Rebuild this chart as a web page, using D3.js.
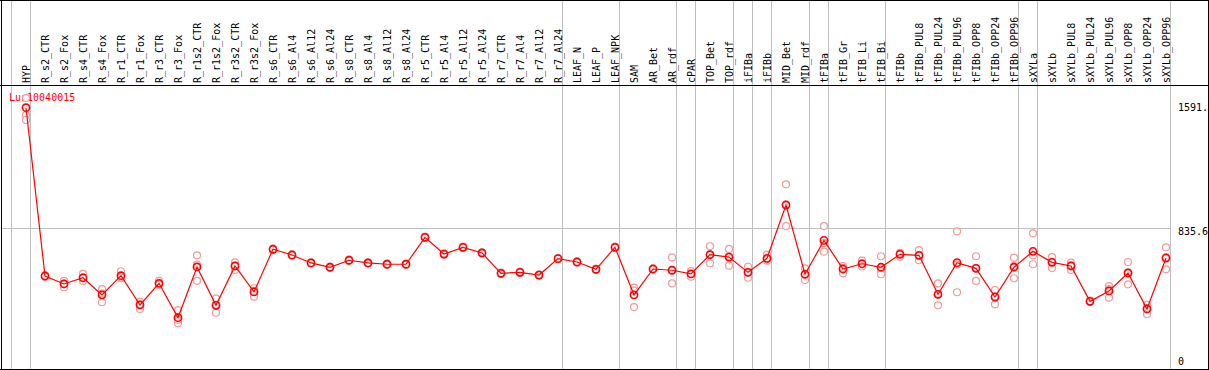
<!DOCTYPE html>
<html lang="en">
<head>
<title>Lus10040015</title>
<script src="https://d3js.org/d3.v7.min.js"></script>
<style>
body{margin:0;background:#fff;}
text{font-family:"DejaVu Sans Mono",monospace;font-size:10px;}
</style>
</head>
<body>
<div id="chart"></div>
<script>
var w = 1209, h = 370;
var geneId = "Lus10040015";

var samples = ["HYP","R_s2_CTR","R_s2_Fox","R_s4_CTR","R_s4_Fox","R_r1_CTR","R_r1_Fox","R_r3_CTR","R_r3_Fox",
  "R_r1s2_CTR","R_r1s2_Fox","R_r3s2_CTR","R_r3s2_Fox","R_s6_CTR","R_s6_Al4","R_s6_Al12","R_s6_Al24",
  "R_s8_CTR","R_s8_Al4","R_s8_Al12","R_s8_Al24","R_r5_CTR","R_r5_Al4","R_r5_Al12","R_r5_Al24",
  "R_r7_CTR","R_r7_Al4","R_r7_Al12","R_r7_Al24","LEAF_N","LEAF_P","LEAF_NPK","SAM","AR_Bet","AR_rdf",
  "cPAR","TOP_Bet","TOP_rdf","iFIBa","iFIBb","MID_Bet","MID_rdf","tFIBa","tFIB_Gr","tFIB_Li","tFIB_Bi",
  "tFIBb","tFIBb_PUL8","tFIBb_PUL24","tFIBb_PUL96","tFIBb_OPP8","tFIBb_OPP24","tFIBb_OPP96",
  "sXYLa","sXYLb","sXYLb_PUL8","sXYLb_PUL24","sXYLb_PUL96","sXYLb_OPP8","sXYLb_OPP24","sXYLb_OPP96"];

var means = [1591.4,534,484,523,415,536,352,488,272,591,350,597,434,702,666,616,589,633,616,608,608,
  777,672,714,679,551,557,540,643,622,576,714,415,578,570,547,668,653,557,645,980,545,758,578,611,589,
  670,664,419,618,582,402,589,689,620,597,375,440,553,327,647];

var reps = [[1652,1545,1514],[540,528,534],[504,463,486],[547,503,520],[452,369,424],[564,520,525],
  [373,327,356],[503,484,478],[320,237,259],[664,504,605],[394,303,353],[620,572,599],[457,404,441],
  [706,698,702],[670,662,666],[620,612,616],[593,585,589],[637,629,633],[620,612,616],[612,604,608],
  [612,604,608],[781,773,777],[676,668,672],[718,710,714],[683,675,679],[555,547,551],[561,553,557],
  [544,536,540],[647,639,643],[626,618,622],[580,572,576],[718,710,714],[461,442,339],[582,575,578],
  [651,488,572],[565,530,548],[721,614,668],[704,599,656],[592,523,556],[668,630,638],[1110,848,982],
  [582,509,544],[848,687,740],[597,551,586],[630,609,594],[658,565,545],[679,655,676],[697,633,662],
  [488,350,419],[815,432,607],[658,503,585],[446,356,404],[649,520,598],[802,664,608],[653,584,623],
  [618,572,601],[380,370,375],[471,398,451],[622,482,555],[352,295,334],[714,576,651]];

// last sample index of each tissue group (-1 = left edge)
var groupEnds = [-1,0,28,31,34,35,37,38,39,41,42,45,52,53,60];
var yMax = 1671.2;
var yTicks = [{v:1591.4,t:"1591.",dy:3},{v:835.6,t:"835.6",dy:7},{v:0,t:"0",dy:4}];

var svg = d3.select("#chart").append("svg").attr("width",w).attr("height",h);

var x = d3.scaleLinear().domain([0,samples.length-1]).range([26,1166]);
var y = d3.scaleLinear().domain([0,yMax]).range([361,95]);

// group separators
svg.selectAll(".sep").data(groupEnds).enter().append("line")
  .attr("x1",function(d){return Math.round(x(d)+4)+0.5;})
  .attr("x2",function(d){return Math.round(x(d)+4)+0.5;})
  .attr("y1",0).attr("y2",369)
  .attr("stroke","#c0c0c0").attr("stroke-width",1);

// mid gridline
var gy = Math.round(y(835.6))+0.5;
svg.append("line").attr("x1",1).attr("x2",Math.round(x(60)+4)+0.5)
  .attr("y1",gy).attr("y2",gy).attr("stroke","#c0c0c0");

// sample labels
svg.selectAll(".lab").data(samples).enter().append("text")
  .attr("transform",function(d,i){return "translate("+(x(i)+3.5)+",83) rotate(-90)";})
  .attr("fill","#000")
  .text(function(d){return d;});

svg.append("text").attr("x",9).attr("y",100.5).attr("fill","#ff0000").text(geneId);

// replicate points
var repPts = [];
reps.forEach(function(r,i){ r.forEach(function(v){ repPts.push({i:i,v:v}); }); });
svg.selectAll(".rep").data(repPts).enter().append("circle")
  .attr("cx",function(d){return x(d.i);})
  .attr("cy",function(d){return y(d.v);})
  .attr("r",3.5)
  .attr("fill","#fff")
  .attr("stroke","#f09a9a").attr("stroke-width",1.2);

// mean line
var line = d3.line().x(function(d,i){return x(i);}).y(function(d){return y(d);});
svg.append("path").datum(means).attr("d",line)
  .attr("fill","none").attr("stroke","#ff0000").attr("stroke-width",1.2);

svg.selectAll(".mean").data(means).enter().append("circle")
  .attr("cx",function(d,i){return x(i);})
  .attr("cy",function(d){return y(d);})
  .attr("r",3.6)
  .attr("fill","none")
  .attr("stroke","#ff0000").attr("stroke-width",1.6);

// borders
var b = [[0,0.5,w,0.5],[1.5,0,1.5,370],[1208.5,0,1208.5,370],[0,369.5,w,369.5],[0,85.5,w,85.5]];
svg.selectAll(".border").data(b).enter().append("line")
  .attr("x1",function(d){return d[0];}).attr("y1",function(d){return d[1];})
  .attr("x2",function(d){return d[2];}).attr("y2",function(d){return d[3];})
  .attr("stroke","#000");

// value labels
svg.selectAll(".val").data(yTicks).enter().append("text")
  .attr("x",1178).attr("y",function(d){return y(d.v)+d.dy;})
  .attr("fill","#000").text(function(d){return d.t;});
</script>
</body>
</html>
